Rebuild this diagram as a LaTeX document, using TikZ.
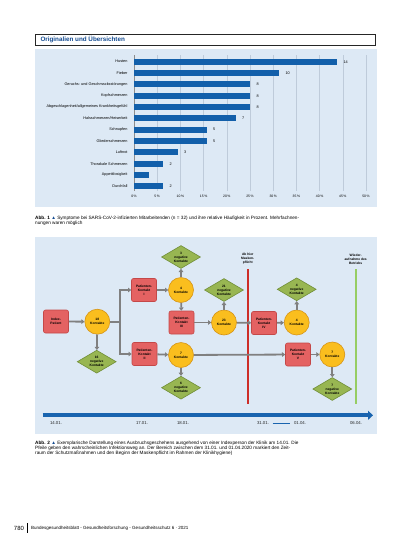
\documentclass[tikz,border=0pt]{standalone}
\usepackage{fontspec}
\setmainfont{Liberation Sans}
\usepackage{tikz}
\usetikzlibrary{shapes.geometric, arrows.meta}

\definecolor{panel}{RGB}{221,233,245}
\definecolor{barblue}{RGB}{18,95,170}
\definecolor{gridline}{RGB}{190,203,218}
\definecolor{headblue}{RGB}{20,75,145}
\definecolor{patred}{RGB}{228,98,98}
\definecolor{patredline}{RGB}{196,72,72}
\definecolor{contyellow}{RGB}{250,190,30}
\definecolor{contline}{RGB}{214,148,22}
\definecolor{neggreen}{RGB}{152,182,82}
\definecolor{negline}{RGB}{112,142,56}
\definecolor{linkgray}{RGB}{128,128,128}
\definecolor{stopred}{RGB}{205,45,40}
\definecolor{gogreen}{RGB}{150,205,100}
\definecolor{tlblue}{RGB}{25,100,175}

\newcommand{\flowfont}{\fontsize{3.3}{3.9}\selectfont\bfseries}
\newcommand{\barfont}{\fontsize{3.8}{4.4}\selectfont}
\newcommand{\capfont}{\fontsize{4.7}{5}\selectfont}

\begin{document}
\begin{tikzpicture}[x=1pt,y=-1pt,
  patient/.style={rectangle, rounded corners=2pt, fill=patred, draw=patredline, line width=0.6pt, minimum width=25pt, minimum height=23pt, inner sep=0pt, align=center, font=\flowfont},
  contact/.style={circle, fill=contyellow, draw=contline, line width=0.6pt, minimum size=25pt, inner sep=0pt, align=center, font=\flowfont},
  negative/.style={diamond, aspect=1.7, fill=neggreen, draw=negline, line width=0.6pt, minimum width=39pt, minimum height=23pt, inner sep=0pt, align=center, font=\flowfont},
  link/.style={draw=linkgray, line width=1.8pt},
  linkarrow/.style={link, -{Triangle[length=3.2pt,width=4.6pt]}},
  datelabel/.style={font=\fontsize{4.3}{5}\selectfont, text=black!85},
  marklabel/.style={font=\flowfont, align=center}]
\useasboundingbox (0,0) rectangle (413,550);
\fill[white] (0,0) rectangle (413,550);

% header
\draw[line width=0.6pt, color=black!85] (35,34.5) rectangle (375,45);
\node[anchor=west, text=headblue, font=\fontsize{6.3}{7}\selectfont\bfseries] (head) at (37,39.7) {Originalien und Übersichten};

% Abb. 1
\fill[panel] (35,49) rectangle (377,207);
\draw[gridline, line width=0.4pt] (157.2,55) -- (157.2,191);
\draw[gridline, line width=0.4pt] (180.4,55) -- (180.4,191);
\draw[gridline, line width=0.4pt] (203.6,55) -- (203.6,191);
\draw[gridline, line width=0.4pt] (226.8,55) -- (226.8,191);
\draw[gridline, line width=0.4pt] (250,55) -- (250,191);
\draw[gridline, line width=0.4pt] (273.2,55) -- (273.2,191);
\draw[gridline, line width=0.4pt] (296.4,55) -- (296.4,191);
\draw[gridline, line width=0.4pt] (319.6,55) -- (319.6,191);
\draw[gridline, line width=0.4pt] (342.8,55) -- (342.8,191);
\draw[gridline, line width=0.4pt] (366,55) -- (366,191);
\draw[color=black!45, line width=0.4pt] (134,55) -- (134,191);

\fill[barblue] (134,58.7) rectangle (337,64.7);
\node[anchor=east, font=\barfont] at (131,61.7) {Husten};
\node[anchor=west, font=\barfont] at (340,61.7) {14};
\fill[barblue] (134,70) rectangle (279,76);
\node[anchor=east, font=\barfont] at (131,73) {Fieber};
\node[anchor=west, font=\barfont] at (282,73) {10};
\fill[barblue] (134,81.3) rectangle (250,87.3);
\node[anchor=east, font=\barfont] at (131,84.3) {Geruchs- und Geschmacksstörungen};
\node[anchor=west, font=\barfont] at (253,84.3) {8};
\fill[barblue] (134,92.7) rectangle (250,98.7);
\node[anchor=east, font=\barfont] at (131,95.7) {Kopfschmerzen};
\node[anchor=west, font=\barfont] at (253,95.7) {8};
\fill[barblue] (134,104) rectangle (250,110);
\node[anchor=east, font=\barfont] at (131,107) {Abgeschlagenheit/allgemeines Krankheitsgefühl};
\node[anchor=west, font=\barfont] at (253,107) {8};
\fill[barblue] (134,115.3) rectangle (235.5,121.3);
\node[anchor=east, font=\barfont] at (131,118.3) {Halsschmerzen/Heiserkeit};
\node[anchor=west, font=\barfont] at (238.5,118.3) {7};
\fill[barblue] (134,126.7) rectangle (206.5,132.7);
\node[anchor=east, font=\barfont] at (131,129.7) {Schnupfen};
\node[anchor=west, font=\barfont] at (209.5,129.7) {5};
\fill[barblue] (134,138) rectangle (206.5,144);
\node[anchor=east, font=\barfont] at (131,141) {Gliederschmerzen};
\node[anchor=west, font=\barfont] at (209.5,141) {5};
\fill[barblue] (134,149.3) rectangle (177.5,155.3);
\node[anchor=east, font=\barfont] at (131,152.3) {Luftnot};
\node[anchor=west, font=\barfont] at (180.5,152.3) {3};
\fill[barblue] (134,160.7) rectangle (163,166.7);
\node[anchor=east, font=\barfont] at (131,163.7) {Thorakale Schmerzen};
\node[anchor=west, font=\barfont] at (166,163.7) {2};
\fill[barblue] (134,172) rectangle (148.5,178);
\node[anchor=east, font=\barfont] at (131,175) {Appetitlosigkeit};
\fill[barblue] (134,183.3) rectangle (163,189.3);
\node[anchor=east, font=\barfont] at (131,186.3) {Durchfall};
\node[anchor=west, font=\barfont] at (166,186.3) {2};

\node[font=\fontsize{3.4}{4}\selectfont] at (134,196) {0\,\%};
\node[font=\fontsize{3.4}{4}\selectfont] at (157.2,196) {5\,\%};
\node[font=\fontsize{3.4}{4}\selectfont] at (180.4,196) {10\,\%};
\node[font=\fontsize{3.4}{4}\selectfont] at (203.6,196) {15\,\%};
\node[font=\fontsize{3.4}{4}\selectfont] at (226.8,196) {20\,\%};
\node[font=\fontsize{3.4}{4}\selectfont] at (250,196) {25\,\%};
\node[font=\fontsize{3.4}{4}\selectfont] at (273.2,196) {30\,\%};
\node[font=\fontsize{3.4}{4}\selectfont] at (296.4,196) {35\,\%};
\node[font=\fontsize{3.4}{4}\selectfont] at (319.6,196) {40\,\%};
\node[font=\fontsize{3.4}{4}\selectfont] at (342.8,196) {45\,\%};
\node[font=\fontsize{3.4}{4}\selectfont] at (366,196) {50\,\%};

\node[anchor=west, font=\capfont, inner sep=0pt] (cap1a) at (35,218) {\textbf{Abb. 1} {\color{headblue}▲} Symptome bei SARS-CoV-2-infizierten Mitarbeitenden (n = 32) und ihre relative Häufigkeit in Prozent. Mehrfachnen-};
\node[anchor=west, font=\capfont, inner sep=0pt] (cap1b) at (35,223) {nungen waren möglich};

% Abb. 2
\fill[panel] (35,237) rectangle (377,434);

% Massnahmen
\draw[stopred, line width=2pt] (247.7,269) -- (247.7,404);
\node[marklabel] (stop) at (247.7,259) {Ab hier\\Masken-\\pflicht};
\draw[gogreen, line width=1.6pt] (355.7,269) -- (355.7,404);
\node[marklabel] (go) at (355.7,259) {Wieder-\\aufnahme des\\Betriebs};

\node[patient] (index) at (56,321.5) {Index-\\Patient};
\node[contact] (k0) at (97.3,321.7) {18\\Kontakte};
\node[negative] (n0) at (96.7,361.7) {16\\negative\\Kontakte};
\coordinate (split) at (120,321.7);
\node[patient] (p1) at (144,290) {Patienten-\\Kontakt\\I};
\node[patient] (p2) at (144.5,354) {Patienten-\\Kontakt\\II};
\node[contact] (k1) at (181,290) {4\\Kontakte};
\node[negative] (n1) at (181,257) {3\\negative\\Kontakte};
\node[patient] (p3) at (181.5,322.5) {Patienten-\\Kontakt\\III};
\node[contact] (k3) at (224,322.5) {23\\Kontakte};
\node[negative] (n3) at (224,290) {21\\negative\\Kontakte};
\node[patient] (p4) at (264,323) {Patienten-\\Kontakt\\IV};
\node[contact] (k4) at (296.7,322.5) {4\\Kontakte};
\node[negative] (n4) at (296.7,289.3) {4\\negative\\Kontakte};
\node[contact] (k2) at (181,355) {7\\Kontakte};
\node[negative] (n2) at (181,387.7) {6\\negative\\Kontakte};
\node[patient] (p5) at (298,354.5) {Patienten-\\Kontakt\\V};
\node[contact] (k5) at (332.3,354.5) {7\\Kontakte};
\node[negative] (n5) at (332.3,389) {7\\negative\\Kontakte};

\draw[linkarrow] (index) -- (k0);
\draw[linkarrow] (k0) -- (n0);
\draw[link] (k0) -- (split);
\draw[linkarrow] (split) |- (p1);
\draw[linkarrow] (split) |- (p2);
\draw[linkarrow] (p1) -- (k1);
\draw[linkarrow] (k1) -- (n1);
\draw[linkarrow] (k1) -- (p3);
\draw[linkarrow] (p3) -- (k3);
\draw[linkarrow] (k3) -- (n3);
\draw[linkarrow] (k3) -- (p4);
\draw[linkarrow] (p4) -- (k4);
\draw[linkarrow] (k4) -- (n4);
\draw[linkarrow] (p2) -- (k2);
\draw[linkarrow] (k2) -- (n2);
\draw[linkarrow] (k2) -- (p5);
\draw[linkarrow] (p5) -- (k5);
\draw[linkarrow] (k5) -- (n5);

% Zeitachse
\coordinate (tstart) at (42.7,415.3);
\coordinate (tend) at (373,415.3);
\draw[tlblue, line width=4pt, -{Triangle[length=5pt,width=9pt]}] (tstart) -- (tend);
\node[datelabel] (d1) at (56,423.5) {14.01.};
\node[datelabel] (d2) at (142,423.5) {17.01.};
\node[datelabel] (d3) at (183,423.5) {18.01.};
\node[datelabel] (d4) at (263,423.5) {31.01.};
\node[datelabel] (d5) at (300,423.5) {01.04.};
\node[datelabel] (d6) at (356,423.5) {06.04.};
\draw[tlblue, line width=1.2pt] (d4.east) -- (d5.west);

\node[anchor=west, font=\capfont, inner sep=0pt] (cap2a) at (35,443) {\textbf{Abb. 2} {\color{headblue}▲} Exemplarische Darstellung eines Ausbruchsgeschehens ausgehend von einer Indexperson der Klinik am 14.01. Die};
\node[anchor=west, font=\capfont, inner sep=0pt] (cap2b) at (35,448) {Pfeile geben den wahrscheinlichen Infektionsweg an. Der Bereich zwischen dem 31.01. und 01.04.2020 markiert den Zeit-};
\node[anchor=west, font=\capfont, inner sep=0pt] (cap2c) at (35,453) {raum der Schutzmaßnahmen und den Beginn der Maskenpflicht im Rahmen der Klinikhygiene)};

% Fusszeile
\node[font=\fontsize{6}{7}\selectfont] (page) at (19,528) {780};
\draw[line width=0.6pt] (27,523) -- (27,533);
\node[anchor=west, font=\fontsize{4.5}{5}\selectfont, inner sep=0pt] (journal) at (31,528) {Bundesgesundheitsblatt - Gesundheitsforschung - Gesundheitsschutz 6 · 2021};
\end{tikzpicture}
\end{document}
